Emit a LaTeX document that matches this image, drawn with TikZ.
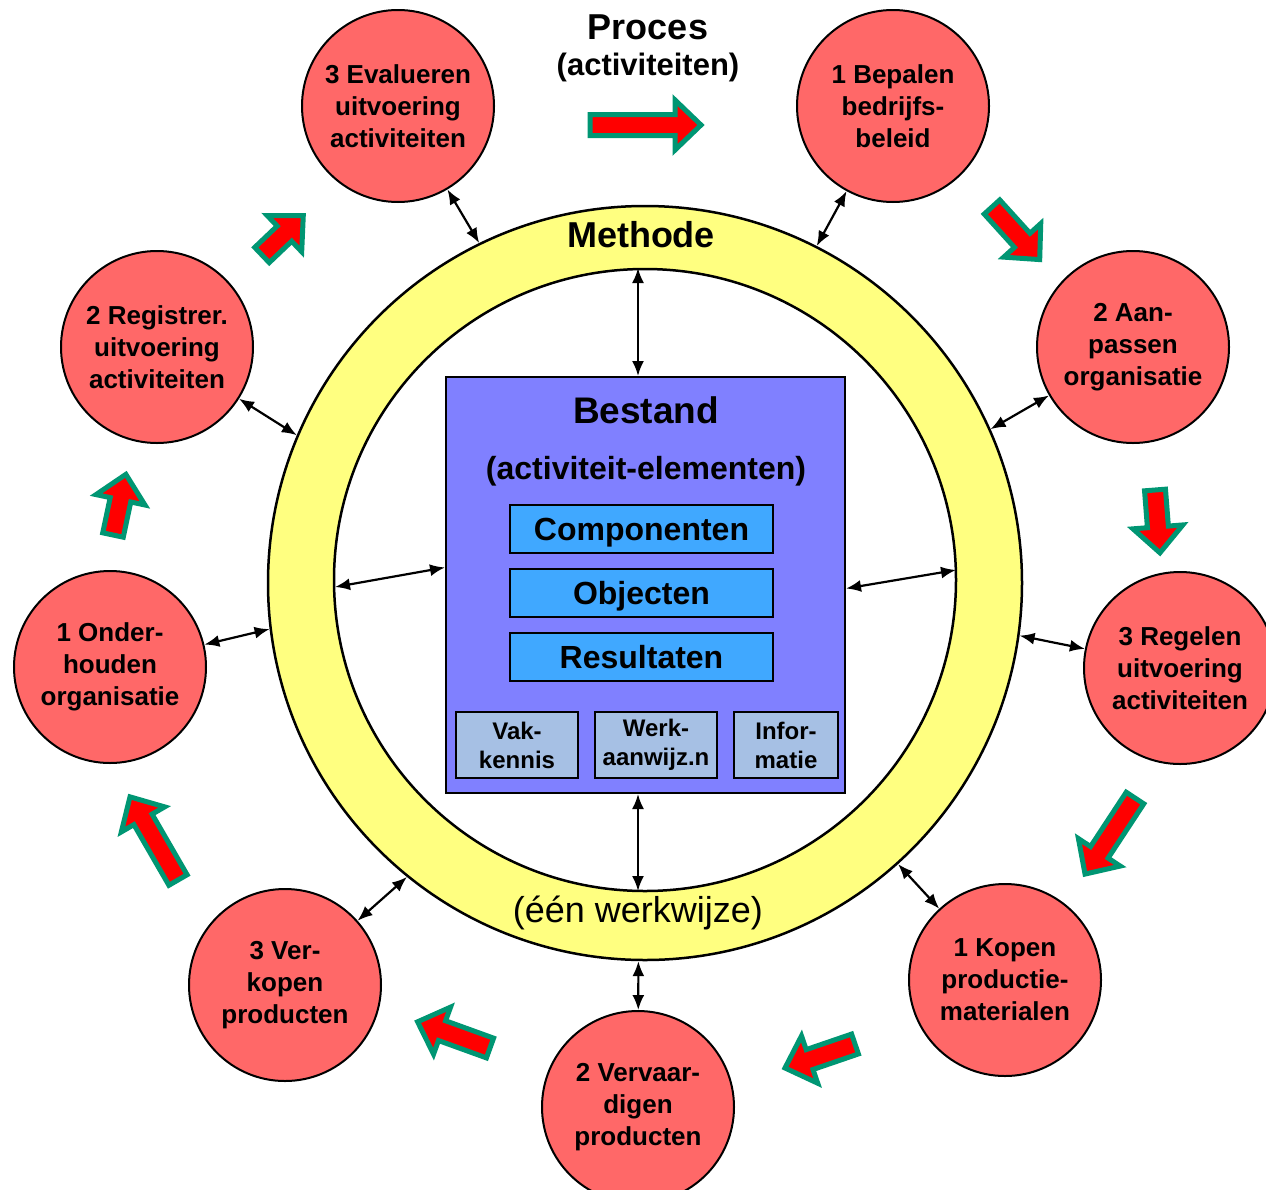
\documentclass[tikz,border=0pt]{standalone}
\usepackage{fontspec}
\setmainfont{Liberation Sans}
\usetikzlibrary{arrows.meta}

\definecolor{cirkelrood}{RGB}{255,104,104}
\definecolor{ringgeel}{RGB}{255,255,128}
\definecolor{bestandblauw}{RGB}{128,128,255}
\definecolor{elementblauw}{RGB}{64,168,255}
\definecolor{bronblauw}{RGB}{166,192,228}
\definecolor{pijlgroen}{RGB}{0,150,115}

\newcommand\lettergrootte[2]{\fontsize{#1}{#2}\selectfont}
% blokpijl: x, y, hoek, lengte
\newcommand\procespijl[4]{%
  \begin{scope}[shift={(#1,#2)}, rotate=#3]
    \draw[blokpijl] (0,-10.5) -- (#4-26,-10.5) -- (#4-26,-25) -- (#4,0)
      -- (#4-26,25) -- (#4-26,10.5) -- (0,10.5) -- cycle;
  \end{scope}}

\begin{document}
\begin{tikzpicture}[x=1pt, y=-1pt]
    \tikzstyle{cirkel} = [shape=circle, draw=black, line width=2pt, fill=cirkelrood, minimum size=192pt, inner sep=0pt, align=center, font=\bfseries\lettergrootte{26}{32}]
    \tikzstyle{element} = [shape=rectangle, draw=black, line width=1.5pt, fill=elementblauw, minimum width=263pt, minimum height=48pt, text depth=0pt, font=\bfseries\lettergrootte{32}{36}]
    \tikzstyle{bron} = [shape=rectangle, draw=black, line width=1.5pt, fill=bronblauw, minimum height=66pt, inner sep=0pt, align=center, font=\bfseries\lettergrootte{24}{29}]
    \tikzstyle{blokpijl} = [draw=pijlgroen, fill=red, line width=5pt, line join=miter]
    \tikzstyle{dubbel} = [{Latex[length=15pt,width=12pt]}-{Latex[length=15pt,width=12pt]}, line width=2.2pt]
    \useasboundingbox (0,0) rectangle (1266,1189);

    % procespijlen
    \procespijl{590}{125}{0}{111}
    \procespijl{992}{207}{-47.8}{71}
    \procespijl{1155}{490}{-85.5}{63}
    \procespijl{1135}{798}{-123.3}{91}
    \procespijl{855}{1044}{198.9}{74}
    \procespijl{490}{1048}{160.1}{77}
    \procespijl{178}{880}{120}{96}
    \procespijl{113}{535}{78}{62}
    \procespijl{262}{255}{43.6}{57}

    % methode-ring
    \node (ring) [shape=circle, draw, line width=2.5pt, fill=ringgeel, minimum size=754pt, inner sep=0pt] at (645,583) {};
    \node (binnen) [shape=circle, draw, line width=2.5pt, fill=white, minimum size=622pt, inner sep=0pt] at (645,580) {};
    \node (methode) [font=\bfseries\lettergrootte{36}{40}] at (641,235) {Methode};
    \node (werkwijze) [font=\lettergrootte{36}{40}] at (638,913) {(één werkwijze)};
    \node (proces) [font=\bfseries\lettergrootte{36}{40}] at (648,27) {Proces};
    \node (procesact) [font=\bfseries\lettergrootte{31}{36}] at (648,67) {(activiteiten)};

    % bestand
    \node (bestand) [shape=rectangle, draw=black, line width=2pt, fill=bestandblauw, minimum width=399pt, minimum height=416pt, inner sep=0pt] at (645.5,585) {};
    \node (bestandtitel) [font=\bfseries\lettergrootte{37}{40}] at (646,410) {Bestand};
    \node (bestandsub) [font=\bfseries\lettergrootte{32}{36}] at (646,471) {(activiteit-elementen)};
    \node (comp) [element] at (641.5,529) {Componenten};
    \node (obj)  [element] at (641.5,593) {Objecten};
    \node (res)  [element] at (641.5,657) {Resultaten};
    \node (vak)  [bron, minimum width=122pt] at (517,745) {Vak-\\kennis};
    \node (werk) [bron, minimum width=122pt] at (656,745) {Werk-\\aanwijz.n};
    \node (info) [bron, minimum width=104pt] at (786,745) {Infor-\\matie};

    % activiteiten
    \node (eval)      [cirkel] at (398,106)  {3 Evalueren\\uitvoering\\activiteiten};
    \node (bepalen)   [cirkel] at (893,106)  {1 Bepalen\\bedrijfs-\\beleid};
    \node (aanpassen) [cirkel] at (1133,347) {2 Aan-\\passen\\organisatie};
    \node (regelen)   [cirkel] at (1180,668) {3 Regelen\\uitvoering\\activiteiten};
    \node (kopen)     [cirkel] at (1005,980) {1 Kopen\\productie-\\materialen};
    \node (verv)      [cirkel] at (638,1107) {2 Vervaar-\\digen\\producten};
    \node (verkopen)  [cirkel] at (285,985)  {3 Ver-\\kopen\\producten};
    \node (onderh)    [cirkel] at (110,667)  {1 Onder-\\houden\\organisatie};
    \node (registr)   [cirkel] at (157,347)  {2 Registrer.\\uitvoering\\activiteiten};

    \draw [dubbel] (eval) -- (ring.116.8);
    \draw [dubbel] (bepalen) -- (ring.63.2);
    \draw [dubbel] (aanpassen) -- (ring.24.3);
    \draw [dubbel] (regelen) -- (ring.352.5);
    \draw [dubbel] (kopen) -- (ring.312.2);
    \draw [dubbel] (verv) -- (ring.269);
    \draw [dubbel] (verkopen) -- (ring.231.6);
    \draw [dubbel] (onderh) -- (ring.187.6);
    \draw [dubbel] (registr) -- (ring.157.6);

    % binnenring naar bestand
    \coordinate (rb) at (638,268);
    \coordinate (ro) at (638,891);
    \coordinate (rl) at (335,587);
    \coordinate (rr) at (956,570);
    \draw [dubbel] (rb) -- (rb |- bestand.north);
    \draw [dubbel] (ro) -- (ro |- bestand.south);
    \draw [dubbel] (rl) -- (bestand.175.7);
    \draw [dubbel] (rr) -- (bestand.359.4);
\end{tikzpicture}
\end{document}
